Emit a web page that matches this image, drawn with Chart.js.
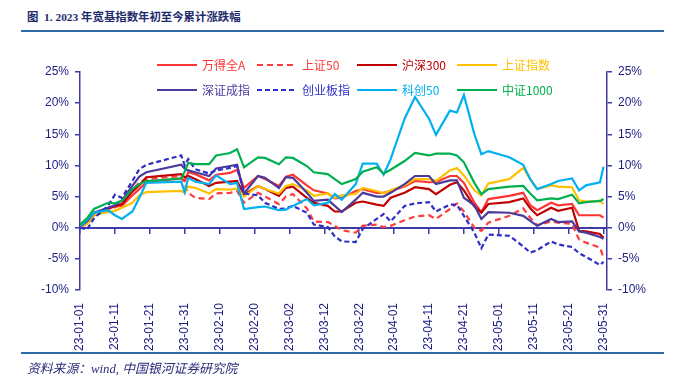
<!DOCTYPE html>
<html>
<head>
<meta charset="utf-8">
<script src="https://cdn.jsdelivr.net/npm/chart.js@4.4.0/dist/chart.umd.min.js"></script>
<style>
  html, body { margin: 0; padding: 0; background: #fff; }
  #wrap { position: relative; width: 676px; height: 383px; overflow: hidden; }
  #title { position: absolute; left: 27px; top: 8px; white-space: pre; font: bold 11.4px "Liberation Serif", "Noto Sans CJK SC", serif; color: #1d2a6b; }
  .rule { position: absolute; left: 21px; width: 643px; height: 2px; background: #2f6aa8; }
  #chartBox { position: absolute; left: 0; top: 40px; width: 676px; height: 329px; }
  #legend { position: absolute; left: 0; top: 0; width: 676px; height: 100px; pointer-events: none; }
  .item { position: absolute; height: 16px; font: 12px "Noto Sans CJK SC", sans-serif; line-height: 16px; white-space: nowrap; }
  .swatch { position: absolute; left: 0; top: 7px; width: 40px; height: 2.4px; }
  .item span { position: absolute; left: 45px; top: 0; }
  #source { position: absolute; left: 27px; top: 358px; white-space: pre; font: italic 12.8px "Liberation Serif", "Noto Sans CJK SC", serif; color: #2b2b7a; }
</style>
</head>
<body>
<div id="wrap">
  <div id="title">图  1. 2023 年宽基指数年初至今累计涨跌幅</div>
  <div class="rule" style="top:30px"></div>
  <div id="chartBox"><canvas id="chart" width="676" height="329"></canvas></div>
  <div id="legend"></div>
  <div class="rule" style="top:352px"></div>
  <div id="source">资料来源：wind, 中国银河证券研究院</div>
</div>
<script>
// 横轴：距 1 月 1 日的天数（交易日）
const days = [0, 2, 4, 8, 10, 12, 15, 17, 19,
  29, 30, 31, 33, 37, 39,
  43, 45, 47, 51, 53, 57,
  59, 61, 65, 67, 71, 73,
  75, 79, 81, 85, 87, 89,
  93, 96, 100, 102, 106, 108,
  110, 113, 115, 117,
  123, 127, 129, 131, 135, 137,
  141, 143, 145, 149, 150];

const tickLabels = ['23-01-01', '23-01-11', '23-01-21', '23-01-31', '23-02-10', '23-02-20',
  '23-03-02', '23-03-12', '23-03-22', '23-04-01', '23-04-11', '23-04-21',
  '23-05-01', '23-05-11', '23-05-21', '23-05-31'];

// 累计涨跌幅 (%)
const wdqa = [0.2, 0.8, 2.0, 3.0, 3.4, 3.5, 5.2, 6.2, 7.3,
  7.9, 7.5, 8.9, 8.6, 7.6, 8.5,
  8.8, 9.3, 6.4, 8.3, 7.8, 6.7,
  8.2, 8.5, 6.8, 6.0, 5.5, 4.7,
  4.8, 5.9, 6.2, 5.6, 5.6, 5.9,
  6.6, 7.5, 7.3, 7.3, 8.3, 8.3,
  7.2, 4.0, 2.5, 4.6,
  5.1, 5.6, 3.6, 2.8, 4.0, 3.6,
  3.8, 2.0, 2.0, 2.0, 1.6];

const sz50 = [0.2, 0.5, 2.0, 2.8, 3.3, 3.7, 6.0, 7.3, 7.8,
  8.3, 7.0, 5.6, 4.8, 4.6, 5.5,
  5.6, 5.9, 4.0, 5.6, 5.0, 3.8,
  5.0, 5.4, 3.1, 1.0, 0.9, 0.3,
  -0.4, -0.8, 0.3, 0.5, 0.1, 0.3,
  1.2, 1.8, 2.0, 1.4, 3.0, 3.9,
  2.6, 0.0, -0.5, 0.8,
  1.9, 3.1, 1.6, 0.4, 1.0, 0.8,
  0.6, -1.9, -2.4, -3.2, -4.8];

const hs300 = [0.2, 0.7, 2.2, 3.1, 3.5, 3.8, 5.8, 6.8, 8.1,
  8.6, 8.1, 8.3, 7.8, 6.7, 7.2,
  7.4, 7.5, 5.3, 6.7, 6.2, 5.1,
  6.4, 6.6, 4.8, 4.0, 3.5, 2.6,
  2.6, 4.0, 4.2, 3.7, 3.5, 4.8,
  5.6, 6.5, 6.2, 5.4, 6.9, 7.3,
  6.0, 3.4, 2.4, 3.8,
  4.1, 4.7, 3.1, 2.0, 3.2, 2.7,
  3.2, -0.5, -0.6, -1.0, -1.6];

const shzs = [0.2, 0.6, 2.1, 2.5, 2.7, 3.2, 4.0, 5.2, 5.7,
  5.9, 5.6, 6.6, 6.4, 5.5, 6.2,
  6.1, 6.3, 5.0, 6.7, 6.2, 5.5,
  6.7, 7.0, 6.0, 5.1, 5.5, 4.8,
  5.2, 5.4, 6.4, 5.9, 5.5, 6.0,
  6.8, 7.8, 7.8, 7.5, 9.2, 9.6,
  8.4, 6.0, 5.2, 7.1,
  7.8, 9.6, 7.8, 6.2, 6.8, 6.6,
  6.5, 4.4, 4.2, 4.3, 3.8];

const szcz = [0.2, 1.0, 2.4, 3.2, 3.6, 4.4, 6.7, 8.2, 8.9,
  10.1, 9.5, 9.2, 8.9, 8.3, 9.5,
  9.9, 10.1, 5.5, 8.3, 8.0, 6.4,
  8.1, 8.0, 5.6, 4.3, 4.5, 3.5,
  2.5, 4.5, 5.6, 5.0, 5.0, 5.6,
  7.0, 8.3, 8.3, 7.0, 7.6, 7.6,
  4.8, 3.6, 1.4, 2.5,
  2.4, 1.9, 1.1, 0.3, 1.4, 0.9,
  1.0, -0.6, -0.8, -1.5, -1.8];

const cybz = [0.0, -0.3, 1.5, 3.5, 5.3, 4.8, 7.5, 9.4, 10.1,
  11.6, 10.0, 11.0, 9.4, 8.7, 9.2,
  9.6, 9.9, 5.5, 5.2, 4.0, 3.0,
  3.1, 3.5, 2.4, 0.5, 0.1, -1.4,
  -2.2, -2.3, -0.2, 1.4, 2.2, 1.0,
  3.5, 3.9, 4.1, 2.6, 3.7, 3.7,
  1.9, -0.8, -3.3, -1.1,
  -1.3, -3.0, -4.0, -3.6, -2.2, -2.7,
  -3.1, -4.1, -4.7, -6.0, -5.5];

const kc50 = [0.3, 1.2, 2.4, 2.8, 2.0, 1.4, 2.6, 4.8, 7.2,
  7.4, 5.7, 8.0, 7.4, 7.0, 8.4,
  7.0, 7.2, 3.0, 3.3, 3.4, 2.8,
  2.9, 3.5, 4.6, 3.6, 4.0, 5.4,
  4.5, 7.0, 10.3, 10.3, 8.5, 11.0,
  17.5, 21.0, 17.5, 14.9, 18.8, 18.5,
  21.3, 15.0, 11.8, 12.3,
  11.3, 10.1, 7.8, 6.2, 7.0, 7.5,
  7.9, 6.0, 6.8, 7.3, 9.8];

const zz1000 = [0.5, 1.5, 3.0, 4.0, 3.9, 4.3, 6.2, 7.0, 7.5,
  7.9, 9.0, 10.4, 10.2, 10.2, 11.6,
  12.0, 12.6, 9.7, 11.3, 11.2, 10.2,
  11.3, 11.2, 9.9, 8.9, 8.6, 7.8,
  7.0, 7.8, 9.0, 9.7, 8.7, 9.3,
  10.7, 12.0, 11.6, 11.9, 11.9, 11.6,
  10.5, 7.2, 5.4, 6.2,
  6.6, 6.7, 5.5, 4.4, 4.7, 4.6,
  5.3, 3.9, 4.1, 4.3, 4.6];

const seriesNames = ['万得全A', '上证50', '沪深300', '上证指数', '深证成指', '创业板指', '科创50', '中证1000'];
const seriesValues = [wdqa, sz50, hs300, shzs, szcz, cybz, kc50, zz1000];
const seriesColors = ['#ff3535', '#ff3b3b', '#c00000', '#ffc000', '#4b3a9a', '#2f2fc8', '#00b0f0', '#00b050'];
const seriesDash = [[], [6, 4], [], [], [], [5, 3], [], []];

const axisColor = '#3c3ca6';
const labelColor = '#1c1c80';

// 图例
const legend = document.getElementById('legend');
seriesNames.forEach((name, i) => {
  const item = document.createElement('div');
  item.className = 'item';
  item.style.left = (157 + (i % 4) * 100) + 'px';
  item.style.top = (57 + Math.floor(i / 4) * 25) + 'px';
  const sw = document.createElement('div');
  sw.className = 'swatch';
  const c = seriesColors[i];
  if (seriesDash[i].length) {
    const d = seriesDash[i];
    sw.style.background = `repeating-linear-gradient(to right, ${c} 0 ${d[0]}px, transparent ${d[0]}px ${d[0] + d[1]}px)`;
  } else {
    sw.style.background = c;
  }
  const tx = document.createElement('span');
  tx.textContent = name;
  tx.style.color = c;
  item.appendChild(sw);
  item.appendChild(tx);
  legend.appendChild(item);
});

Chart.defaults.font.family = '"Liberation Sans", Arial, sans-serif';
Chart.defaults.font.size = 12;

const yAxis = (pos) => ({
  type: 'linear',
  position: pos,
  min: -10,
  max: 25,
  ticks: { stepSize: 5, color: labelColor, padding: 6, callback: v => v + '%' },
  grid: { drawOnChartArea: false, drawTicks: true, tickLength: 5, color: axisColor, lineWidth: 1.5 },
  border: { color: axisColor, width: 1.5 }
});

new Chart(document.getElementById('chart'), {
  type: 'line',
  data: {
    datasets: seriesNames.map((name, i) => ({
      label: name,
      data: days.map((d, k) => ({ x: d, y: seriesValues[i][k] })),
      borderColor: seriesColors[i],
      borderDash: seriesDash[i],
      borderWidth: 2.2,
      pointRadius: 0,
      tension: 0,
      fill: false,
      xAxisID: 'x',
      yAxisID: 'y',
      order: seriesNames.length - i
    }))
  },
  options: {
    responsive: false,
    animation: false,
    layout: { padding: { top: 32, bottom: 5, left: 35, right: 24 } },
    plugins: { legend: { display: false }, tooltip: { enabled: false } },
    scales: {
      x: {
        type: 'linear',
        position: 'bottom',
        min: 0,
        max: 151,
        grid: { display: false, drawTicks: false },
        border: { display: false },
        ticks: {
          stepSize: 10,
          includeBounds: false,
          autoSkip: false,
          minRotation: 90,
          maxRotation: 90,
          padding: 13,
          color: labelColor,
          callback: v => tickLabels[Math.round(v / 10)]
        }
      },
      x0: {
        type: 'linear',
        position: { y: 0 },
        min: 0,
        max: 151,
        ticks: { display: false, stepSize: 10, includeBounds: false },
        grid: { drawOnChartArea: false, drawTicks: true, tickLength: 5, color: axisColor, lineWidth: 1.5 },
        border: { color: axisColor, width: 2 }
      },
      y: yAxis('left'),
      y2: yAxis('right')
    }
  }
});
</script>
</body>
</html>
